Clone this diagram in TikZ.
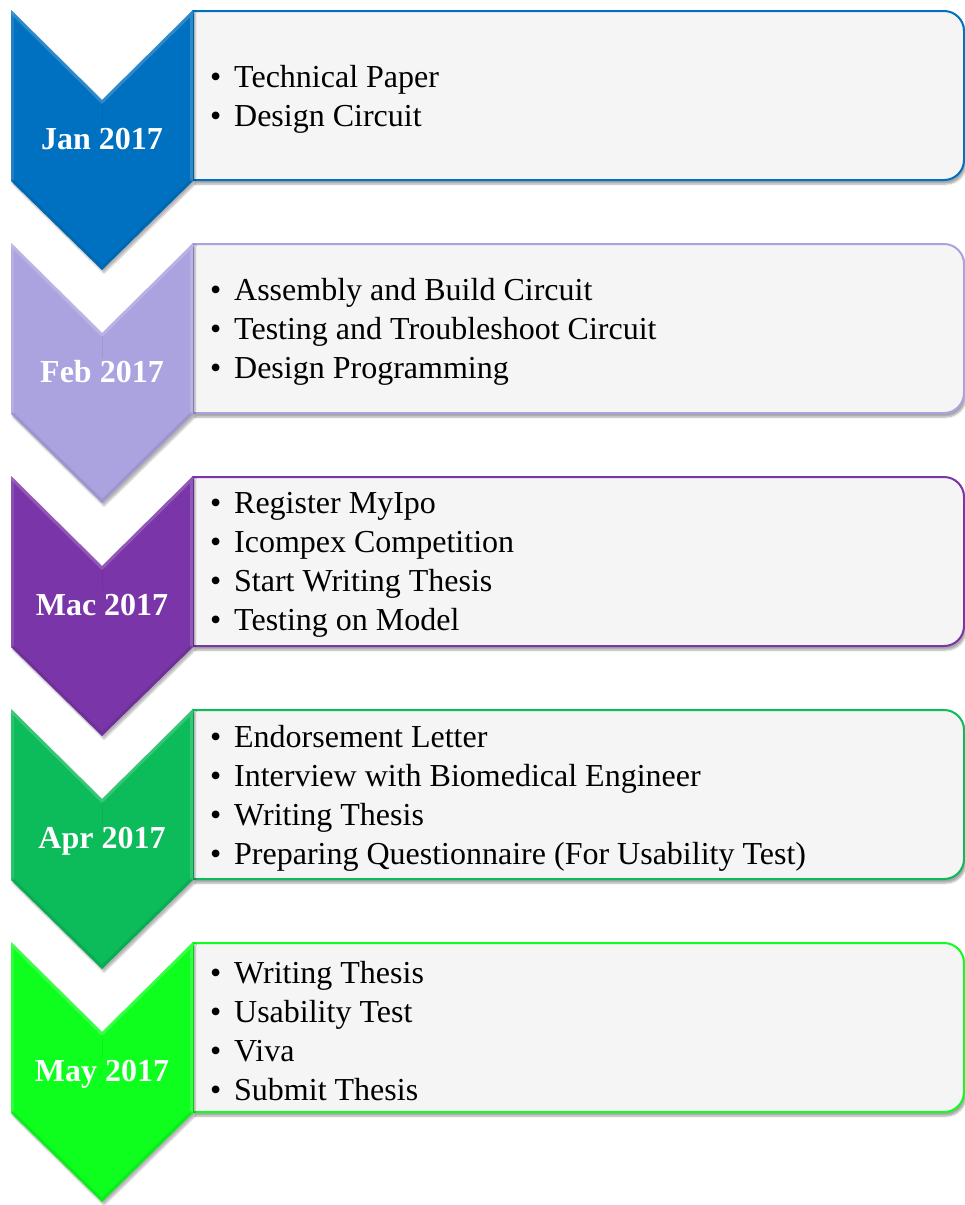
\documentclass[tikz,border=0pt]{standalone}
\usepackage{fontspec}
\setmainfont{Liberation Serif}
\usetikzlibrary{shadows.blur}
\definecolor{cJan}{HTML}{0070C0}
\definecolor{cFeb}{HTML}{AAA3DF}
\definecolor{cMac}{HTML}{7A35A8}
\definecolor{cApr}{HTML}{0CBB5A}
\definecolor{cMay}{HTML}{0EFF1E}
\definecolor{boxfill}{HTML}{F5F5F5}
\tikzset{
  monthlbl/.style={text=white, font=\fontsize{32}{38}\selectfont\bfseries, inner sep=0pt, anchor=base},
  itemlist/.style={text=black, font=\fontsize{32}{39}\selectfont, align=left, inner sep=0pt, anchor=west},
  taskbox/.style={line width=2pt, fill=boxfill, blur shadow={shadow xshift=2pt, shadow yshift=-4pt, shadow blur steps=6, shadow opacity=35}},
  chev/.style={blur shadow={shadow xshift=2pt, shadow yshift=-3pt, shadow blur steps=6, shadow opacity=30}}
}
\newcommand\bul{\makebox[24pt][l]{•}}
\newcommand\tlstage[5]{%
  \def\T{#2}%
  \path[taskbox, draw=#3] (193,{-\T-1}) -- (944,{-\T-1}) arc[start angle=90,end angle=0,radius=20]
      -- (964,{-\T-150}) arc[start angle=0,end angle=-90,radius=20] -- (193,{-\T-170}) -- cycle;
  \path[chev, fill=#3] (11,{-\T}) -- (102,{-\T-90}) -- (193,{-\T}) -- (193,{-\T-171})
      -- (102,{-\T-260}) -- (11,{-\T-171}) -- cycle;
  \begin{scope}
    \clip (11,{-\T}) -- (102,{-\T-90}) -- (193,{-\T}) -- (193,{-\T-171})
      -- (102,{-\T-260}) -- (11,{-\T-171}) -- cycle;
    \draw[line width=6pt, #3!50!white, opacity=0.35] (11,{-\T}) -- (102,{-\T-90}) -- (193,{-\T}) -- (193,{-\T-171});
    \draw[line width=6pt, #3!60!white, opacity=0.3] (11,{-\T}) -- (11,{-\T-171});
    \draw[line width=6pt, #3!70!black, opacity=0.25] (193,{-\T-171}) -- (102,{-\T-260}) -- (11,{-\T-171});
    \draw[line width=0.6pt, #3!85!black, opacity=0.4] (102,{-\T-93}) -- (102,{-\T-115});
  \end{scope}
  \node[monthlbl] (#1m) at (102,{-\T-139.5}) {#4};
  \node[itemlist] (#1t) at (210,{-\T-89}) {#5};
}
\begin{document}
\begin{tikzpicture}[x=1pt,y=1pt]
\useasboundingbox (0,0) rectangle (965,-1205);
\tlstage{jan}{10}{cJan}{Jan 2017}{\bul Technical Paper\\\bul Design Circuit}
\tlstage{feb}{243}{cFeb}{Feb 2017}{\bul Assembly and Build Circuit\\\bul Testing and Troubleshoot Circuit\\\bul Design Programming}
\tlstage{mac}{476}{cMac}{Mac 2017}{\bul Register MyIpo\\\bul Icompex Competition\\\bul Start Writing Thesis\\\bul Testing on Model}
\tlstage{apr}{709}{cApr}{Apr 2017}{\bul Endorsement Letter\\\bul Interview with Biomedical Engineer\\\bul Writing Thesis\\\bul Preparing Questionnaire (For Usability Test)}
\tlstage{may}{942}{cMay}{May 2017}{\bul Writing Thesis\\\bul Usability Test\\\bul Viva\\\bul Submit Thesis}
\end{tikzpicture}
\end{document}
